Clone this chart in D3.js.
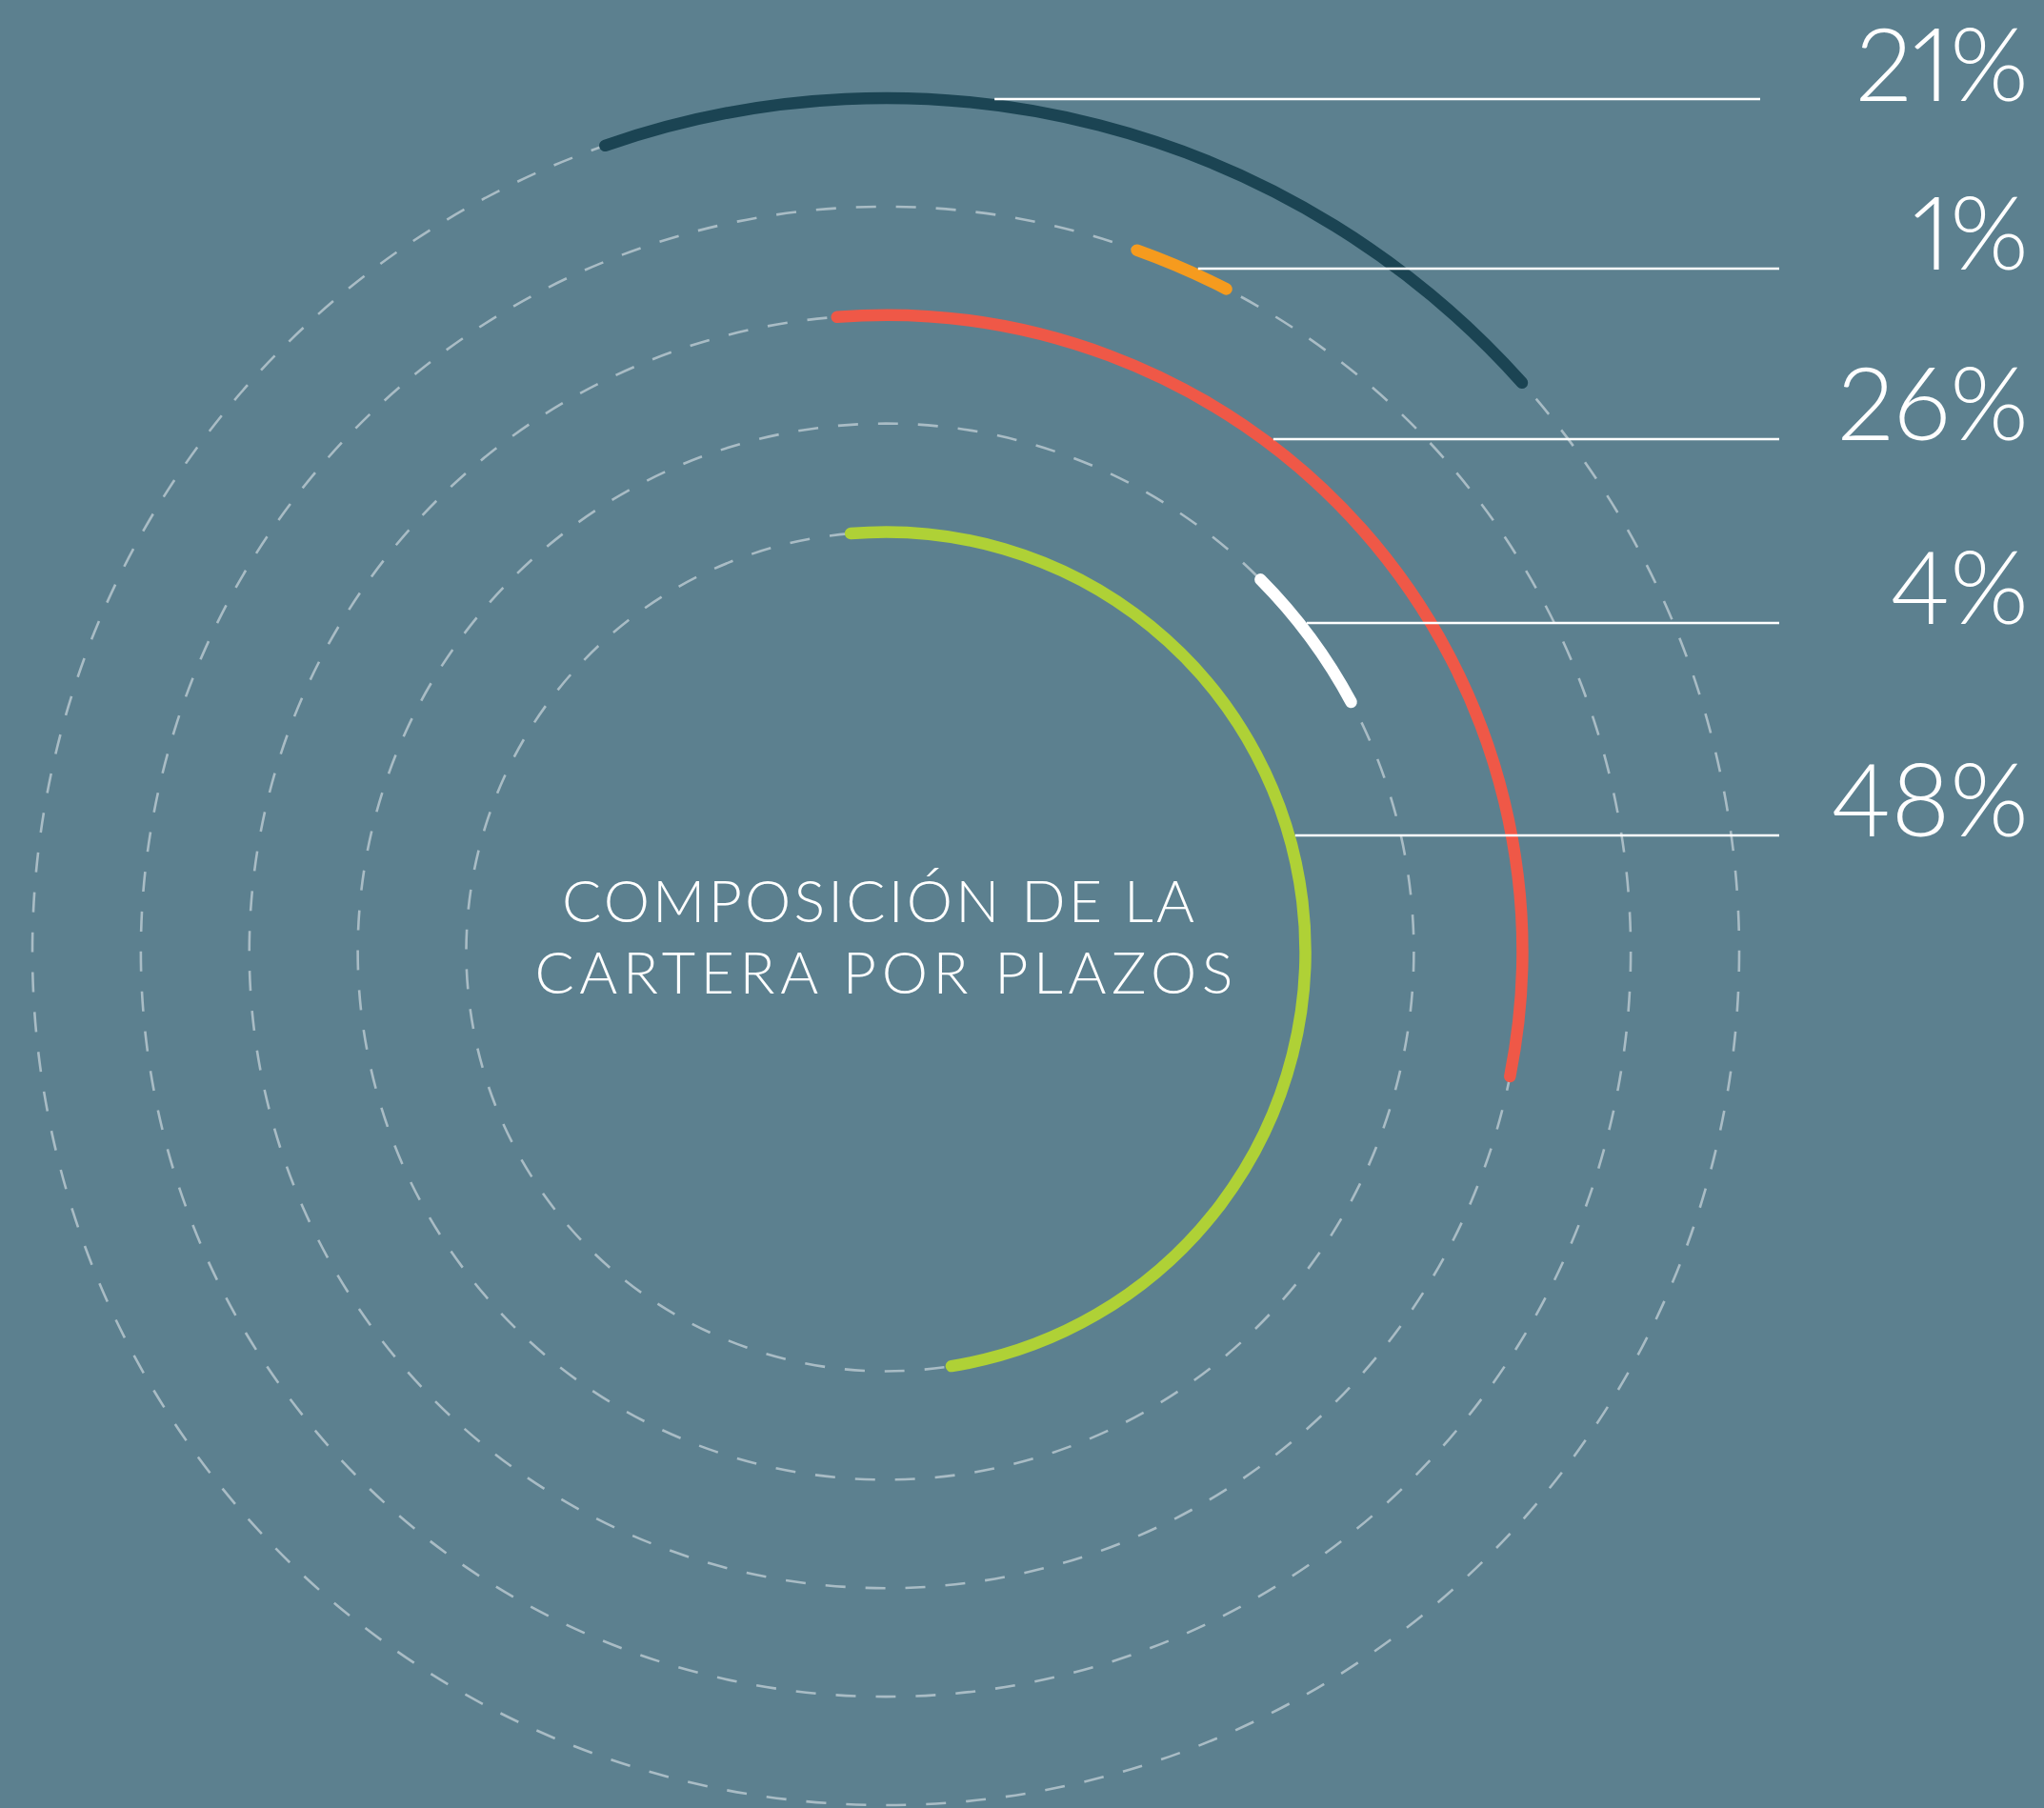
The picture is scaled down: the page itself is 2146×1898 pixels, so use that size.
<!DOCTYPE html>
<html>
<head>
<meta charset="utf-8">
<script src="https://cdn.jsdelivr.net/npm/d3@7"></script>
<style>
  html, body { margin: 0; padding: 0; background: #5c808f; }
  svg { display: block; }
</style>
</head>
<body>
<svg id="chart" width="2146" height="1898"></svg>
<script>
// ---- data ----
const categories = ["r1", "r2", "r3", "r4", "r5"];          // rings, outer -> inner
const values = [21, 1, 26, 4, 48];                             // percentage labels
const arcStartDeg = [-19.2, 19.7, -4.4, 45.2, -4.8];           // arc start (deg, clockwise from 12 o'clock)
const arcEndDeg = [48.2, 27.2, 101.3, 61.8, 171.0];            // arc end
const titleLines = ["COMPOSICIÓN DE LA", "CARTERA POR PLAZOS"];

// ---- styles / layout ----
const palette = ["#1b4453", "#f69b1e", "#ef5847", "#ffffff", "#afd136"];
const W = 2146, H = 1898;
const cx = 930, cy = 999;
const arcWidth = 12.5;
const labelY = [104, 282, 461, 654, 877];      // leader-line levels
const lineEndX = [1848, 1868, 1868, 1868, 1868];
const labelRight = 2130;

const svg = d3.select("#chart");
svg.append("rect").attr("width", W).attr("height", H).attr("fill", "#5c808f");

const rScale = d3.scalePoint().domain(categories).range([896, 440.5]);
const angle = d3.scaleLinear().domain([0, 360]).range([0, 2 * Math.PI]);

const g = svg.append("g").attr("transform", `translate(${cx},${cy})`);

// dashed guide circles
g.selectAll("circle.guide")
  .data(categories)
  .join("circle")
  .attr("class", "guide")
  .attr("r", d => rScale(d))
  .attr("fill", "none")
  .attr("stroke", "#a9bcc5")
  .attr("stroke-width", 2.6)
  .attr("stroke-dasharray", "21 21");

// arcs
const rows = categories.map((c, i) => ({
  cat: c, value: values[i], a0: arcStartDeg[i], a1: arcEndDeg[i],
  color: palette[i], ly: labelY[i], lx2: lineEndX[i]
}));

g.selectAll("path.arc")
  .data(rows)
  .join("path")
  .attr("class", "arc")
  .attr("d", d => {
    const p = d3.path();
    const r = rScale(d.cat);
    const s = angle(d.a0) - Math.PI / 2, e = angle(d.a1) - Math.PI / 2;
    p.moveTo(r * Math.cos(s), r * Math.sin(s));
    p.arc(0, 0, r, s, e, false);
    return p.toString();
  })
  .attr("fill", "none")
  .attr("stroke", d => d.color)
  .attr("stroke-width", arcWidth)
  .attr("stroke-linecap", "round");

// leader lines
svg.selectAll("line.leader")
  .data(rows)
  .join("line")
  .attr("class", "leader")
  .attr("x1", d => {
    const R = rScale(d.cat) + arcWidth / 2;
    const dy = d.ly - cy;
    return cx + Math.sqrt(Math.max(0, R * R - dy * dy));
  })
  .attr("x2", d => d.lx2)
  .attr("y1", d => d.ly)
  .attr("y2", d => d.ly)
  .attr("stroke", "#ffffff")
  .attr("stroke-width", 2.6);

// percentage labels
const fmt = d => d + "%";
svg.selectAll("text.pct")
  .data(rows)
  .join("text")
  .attr("class", "pct")
  .attr("x", labelRight)
  .attr("y", d => Math.max(d.ly + 1, 106))
  .attr("text-anchor", "end")
  .attr("fill", "#ffffff")
  .style("font-family", "Lato, 'Open Sans', sans-serif")
  .style("font-weight", 300)
  .style("font-size", "106px")
  .style("font-variant-numeric", "proportional-nums")
  .style("font-feature-settings", "'pnum' 1")
  .text(d => fmt(d.value));

// centre title
const titleX = [922, 928], titleY = [968, 1043], titleLen = [664, 733];
svg.selectAll("text.title")
  .data(titleLines)
  .join("text")
  .attr("class", "title")
  .attr("x", (d, i) => titleX[i])
  .attr("y", (d, i) => titleY[i])
  .attr("text-anchor", "middle")
  .attr("textLength", (d, i) => titleLen[i])
  .attr("lengthAdjust", "spacing")
  .attr("fill", "#ffffff")
  .style("font-family", "Lato, 'Open Sans', sans-serif")
  .style("font-weight", 300)
  .style("font-size", "61px")
  .text(d => d);
</script>
</body>
</html>
